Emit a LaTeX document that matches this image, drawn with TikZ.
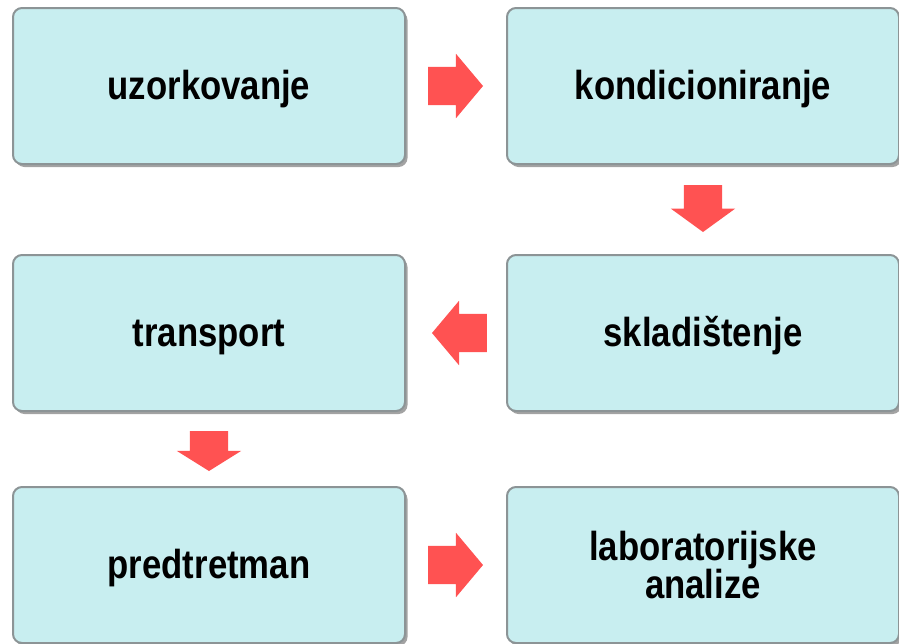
\documentclass[tikz,border=0pt]{standalone}
\usepackage{fontspec}
\setmainfont{Liberation Sans}[FakeStretch=0.857]
\usepackage{tikz}
\usetikzlibrary{positioning, shapes.arrows, shadows}
\definecolor{boxfill}{RGB}{200,238,240}
\definecolor{boxborder}{RGB}{140,148,150}
\definecolor{arrowred}{RGB}{255,82,82}

\begin{document}
\begin{tikzpicture}[
    x=1pt, y=-1pt,
    font=\fontsize{40.5}{38}\selectfont\bfseries,
    step_box/.style={rounded corners=9pt, draw=boxborder, fill=boxfill, line width=2pt, align=center, minimum width=392pt, minimum height=156pt, inner sep=0pt, outer sep=0pt, drop shadow={shadow xshift=2.5pt, shadow yshift=-3pt, fill=black!60, opacity=0.6}},
    one_line/.style={text height=27pt, text depth=0pt},
    flow_arrow/.style={single arrow, fill=arrowred, draw=none, inner sep=0pt, outer sep=0pt, text width=38pt, text height=19pt, text depth=19pt, minimum width=64pt, single arrow head extend=13pt},
    down_arrow/.style={flow_arrow, shape border rotate=270, text height=0pt, text depth=0pt}
]
\useasboundingbox (0,0) rectangle (899,643);

% Top row
\node[step_box, one_line] (uzork) at (209,86) {uzorkovanje};
\node[step_box, one_line, right=102pt of uzork] (kond) {kondicioniranje};

% Middle row
\node[step_box, one_line, below=91pt of kond] (sklad) {skladištenje};
\node[step_box, one_line, below=91pt of uzork] (transp) {transport};

% Bottom row
\node[step_box, one_line, below=76pt of transp] (predtr) {predtretman};
\node[step_box, right=102pt of predtr] (labor) {laboratorijske\\analize};

% Block arrows between steps
\node[flow_arrow, minimum height=55pt, single arrow tip angle=100, right=23pt of uzork] (a1) {};
\node[down_arrow, minimum height=47pt, single arrow tip angle=108, below=21pt of kond] (a2) {};
\node[flow_arrow, minimum height=55pt, single arrow tip angle=100, shape border rotate=180, left=20pt of sklad] (a3) {};
\node[down_arrow, minimum height=40pt, single arrow tip angle=116, below=20pt of transp] (a4) {};
\node[flow_arrow, minimum height=55pt, single arrow tip angle=100, right=23pt of predtr] (a5) {};

\end{tikzpicture}
\end{document}
